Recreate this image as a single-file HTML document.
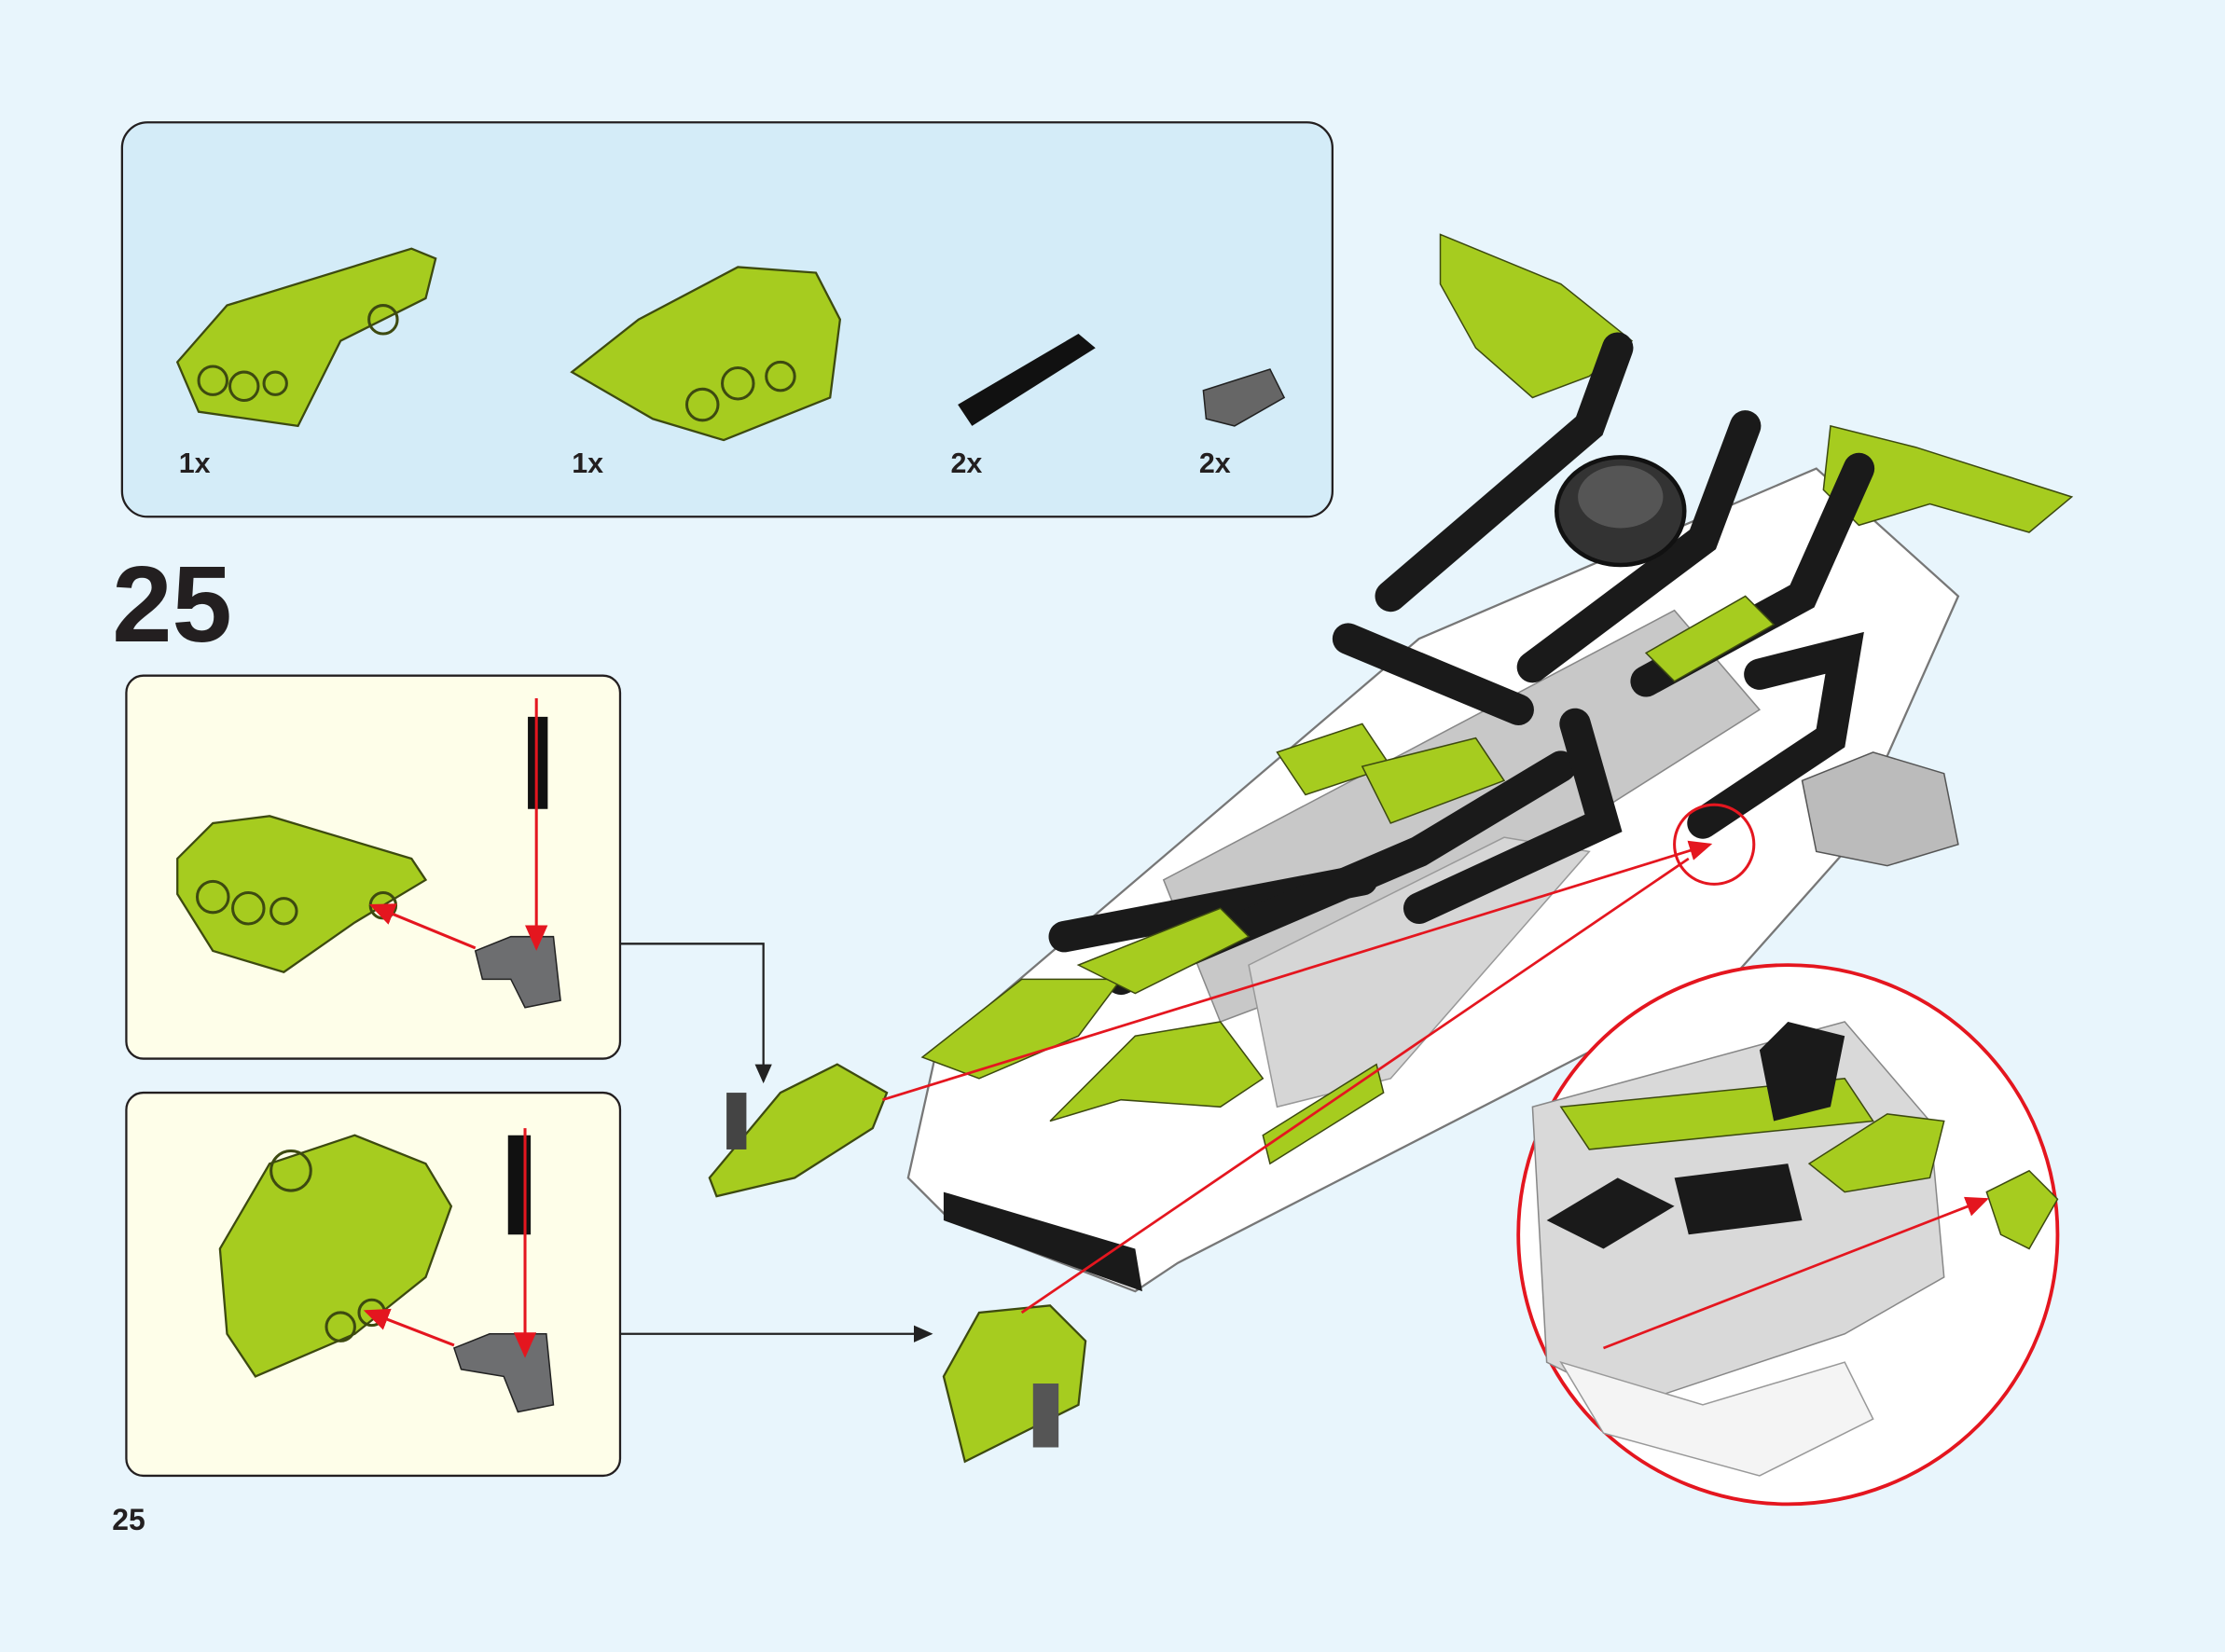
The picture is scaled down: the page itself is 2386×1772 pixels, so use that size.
<!DOCTYPE html>
<html><head><meta charset="utf-8"><style>
html,body{margin:0;padding:0;background:#e8f5fc;}
svg{display:block;}
text{font-family:"Liberation Sans",sans-serif;font-weight:bold;fill:#231f20;}
</style></head><body>
<svg width="2386" height="1772" viewBox="0 0 1568 1164" xmlns="http://www.w3.org/2000/svg">
<defs>
<marker id="ar" markerWidth="10" markerHeight="10" refX="8" refY="5" orient="auto"><path d="M0,1 L9,5 L0,9 Z" fill="#222"/></marker>
<marker id="rr" markerWidth="10" markerHeight="10" refX="8" refY="5" orient="auto"><path d="M0,1 L9,5 L0,9 Z" fill="#e4161f"/></marker>
</defs>
<rect width="1568" height="1164" fill="#e8f5fc"/>
<!-- parts box -->
<rect x="86" y="86" width="853" height="278" rx="18" fill="#d4ecf8" stroke="#231f20" stroke-width="1.5"/>
<path d="M125,255 L160,215 L290,175 L307,182 L300,210 L240,240 L210,300 L140,290 Z" fill="#a6cc1f" stroke="#3d4a10" stroke-width="1.5"/>
<g fill="none" stroke="#3d4a10" stroke-width="2"><circle cx="150" cy="268" r="10"/><circle cx="172" cy="272" r="10"/><circle cx="194" cy="270" r="8"/><circle cx="270" cy="225" r="10"/></g>
<path d="M403,262 L450,225 L520,188 L575,192 L592,225 L585,280 L510,310 L460,295 Z" fill="#a6cc1f" stroke="#3d4a10" stroke-width="1.5"/>
<g fill="none" stroke="#3d4a10" stroke-width="2"><circle cx="495" cy="285" r="11"/><circle cx="520" cy="270" r="11"/><circle cx="550" cy="265" r="10"/></g>
<path d="M675,285 L760,235 L772,245 L685,300 Z" fill="#111"/>
<path d="M848,275 L895,260 L905,280 L870,300 L850,295 Z" fill="#666" stroke="#222"/>
<text x="126" y="333" font-size="20">1x</text>
<text x="403" y="333" font-size="20">1x</text>
<text x="670" y="333" font-size="20">2x</text>
<text x="845" y="333" font-size="20">2x</text>
<text x="79" y="452" font-size="76">25</text>
<!-- sub boxes -->
<rect x="89" y="476" width="348" height="270" rx="12" fill="#fefee9" stroke="#231f20" stroke-width="1.5"/>
<rect x="89" y="770" width="348" height="270" rx="12" fill="#fefee9" stroke="#231f20" stroke-width="1.5"/>
<path d="M125,605 L150,580 L190,575 L290,605 L300,620 L250,650 L200,685 L150,670 L125,630 Z" fill="#a6cc1f" stroke="#3d4a10" stroke-width="1.5"/>
<g fill="none" stroke="#3d4a10" stroke-width="2"><circle cx="150" cy="632" r="11"/><circle cx="175" cy="640" r="11"/><circle cx="200" cy="642" r="9"/><circle cx="270" cy="638" r="9"/></g>
<path d="M372,505 L386,505 L386,570 L372,570 Z" fill="#111"/>
<path d="M335,670 L360,660 L390,660 L395,705 L370,710 L360,690 L340,690 Z" fill="#6d6e70" stroke="#222"/>
<line x1="378" y1="492" x2="378" y2="668" stroke="#e4161f" stroke-width="2" marker-end="url(#rr)"/>
<line x1="335" y1="668" x2="262" y2="638" stroke="#e4161f" stroke-width="2" marker-end="url(#rr)"/>
<path d="M155,880 L190,820 L250,800 L300,820 L318,850 L300,900 L250,940 L180,970 L160,940 Z" fill="#a6cc1f" stroke="#3d4a10" stroke-width="1.5"/>
<g fill="none" stroke="#3d4a10" stroke-width="2"><circle cx="205" cy="825" r="14"/><circle cx="240" cy="935" r="10"/><circle cx="262" cy="925" r="9"/></g>
<path d="M358,800 L374,800 L374,870 L358,870 Z" fill="#111"/>
<path d="M320,950 L345,940 L385,940 L390,990 L365,995 L355,970 L325,965 Z" fill="#6d6e70" stroke="#222"/>
<line x1="370" y1="795" x2="370" y2="955" stroke="#e4161f" stroke-width="2" marker-end="url(#rr)"/>
<line x1="320" y1="948" x2="258" y2="924" stroke="#e4161f" stroke-width="2" marker-end="url(#rr)"/>
<!-- connectors -->
<polyline points="437,665 538,665 538,762" fill="none" stroke="#222" stroke-width="1.5" marker-end="url(#ar)"/>
<line x1="437" y1="940" x2="656" y2="940" stroke="#222" stroke-width="1.5" marker-end="url(#ar)"/>
<!-- loose parts near car -->
<path d="M500,830 L550,770 L590,750 L625,770 L615,795 L560,830 L505,843 Z" fill="#a6cc1f" stroke="#3d4a10" stroke-width="1.5"/>
<rect x="512" y="770" width="14" height="40" fill="#444"/>
<path d="M665,970 L690,925 L740,920 L765,945 L760,990 L720,1010 L680,1030 Z" fill="#a6cc1f" stroke="#3d4a10" stroke-width="1.5"/>
<rect x="728" y="975" width="18" height="45" fill="#555"/>
<!-- car body -->
<path d="M640,830 L660,740 L1000,450 L1280,330 L1380,420 L1300,600 L1220,690 L830,890 L800,910 L670,860 Z" fill="#ffffff" stroke="#777" stroke-width="1.5"/>
<path d="M665,840 L800,880 L805,910 L665,860 Z" fill="#1a1a1a"/>
<path d="M820,620 L1180,430 L1240,500 L940,690 L860,720 Z" fill="#c8c8c8" stroke="#888"/>
<path d="M880,680 L1060,590 L1120,600 L980,760 L900,780 Z" fill="#d6d6d6" stroke="#999"/>
<path d="M1015,165 L1100,200 L1150,240 L1120,265 L1080,280 L1040,245 L1015,200 Z" fill="#a6cc1f" stroke="#3d4a10"/>
<path d="M1290,300 L1350,315 L1460,350 L1430,375 L1360,355 L1310,370 L1285,345 Z" fill="#a6cc1f" stroke="#3d4a10"/>
<g stroke="#1a1a1a" stroke-width="22" stroke-linecap="round" fill="none">
<path d="M1140,245 L1120,300 L980,420"/>
<path d="M1230,300 L1200,380 L1080,470"/>
<path d="M1310,330 L1270,420 L1160,480"/>
<path d="M950,450 L1070,500"/>
<path d="M750,660 L960,620"/>
<path d="M790,690 L1000,600 L1100,540"/>
<path d="M1240,475 L1300,460 L1290,520 L1200,580"/>
<path d="M1110,510 L1130,580 L1000,640"/>
</g>
<ellipse cx="1142" cy="360" rx="45" ry="38" fill="#333" stroke="#111" stroke-width="3"/>
<ellipse cx="1142" cy="350" rx="30" ry="22" fill="#555"/>
<g fill="#a6cc1f" stroke="#3d4a10">
<path d="M650,745 L720,690 L790,690 L760,730 L690,760 Z"/>
<path d="M740,790 L800,730 L860,720 L890,760 L860,780 L790,775 Z"/>
<path d="M760,680 L860,640 L880,660 L800,700 Z"/>
<path d="M1160,460 L1230,420 L1250,440 L1180,480 Z"/>
<path d="M900,530 L960,510 L980,540 L920,560 Z"/>
<path d="M960,540 L1040,520 L1060,550 L980,580 Z"/>
<path d="M890,800 L970,750 L975,770 L895,820 Z"/>
</g>
<path d="M1270,550 L1320,530 L1370,545 L1380,595 L1330,610 L1280,600 Z" fill="#bbb" stroke="#555"/>
<line x1="622" y1="775" x2="1205" y2="595" stroke="#e4161f" stroke-width="1.8" marker-end="url(#rr)"/>
<line x1="720" y1="925" x2="1190" y2="605" stroke="#e4161f" stroke-width="1.8"/>
<circle cx="1208" cy="595" r="28" fill="none" stroke="#e4161f" stroke-width="2"/>
<!-- zoom circle -->
<circle cx="1260" cy="870" r="190" fill="#ffffff" stroke="#e4161f" stroke-width="2.5"/>
<g>
<path d="M1080,780 L1300,720 L1360,790 L1370,900 L1300,940 L1150,990 L1090,960 Z" fill="#d9d9d9" stroke="#888"/>
<path d="M1100,780 L1300,760 L1320,790 L1120,810 Z" fill="#a6cc1f" stroke="#3d4a10"/>
<path d="M1275,820 L1330,785 L1370,790 L1360,830 L1300,840 Z" fill="#a6cc1f" stroke="#3d4a10"/>
<path d="M1090,860 L1140,830 L1180,850 L1130,880 Z" fill="#1a1a1a"/>
<path d="M1240,740 L1260,720 L1300,730 L1290,780 L1250,790 Z" fill="#1a1a1a"/>
<path d="M1180,830 L1260,820 L1270,860 L1190,870 Z" fill="#1a1a1a"/>
<path d="M1100,960 L1200,990 L1300,960 L1320,1000 L1240,1040 L1130,1010 Z" fill="#f4f4f4" stroke="#999"/>
<path d="M1400,840 L1430,825 L1450,845 L1430,880 L1410,870 Z" fill="#a6cc1f" stroke="#3d4a10"/>
<line x1="1130" y1="950" x2="1400" y2="845" stroke="#e4161f" stroke-width="1.8" marker-end="url(#rr)"/>
</g>
<text x="79" y="1078" font-size="21">25</text>
</svg>
</body></html>
